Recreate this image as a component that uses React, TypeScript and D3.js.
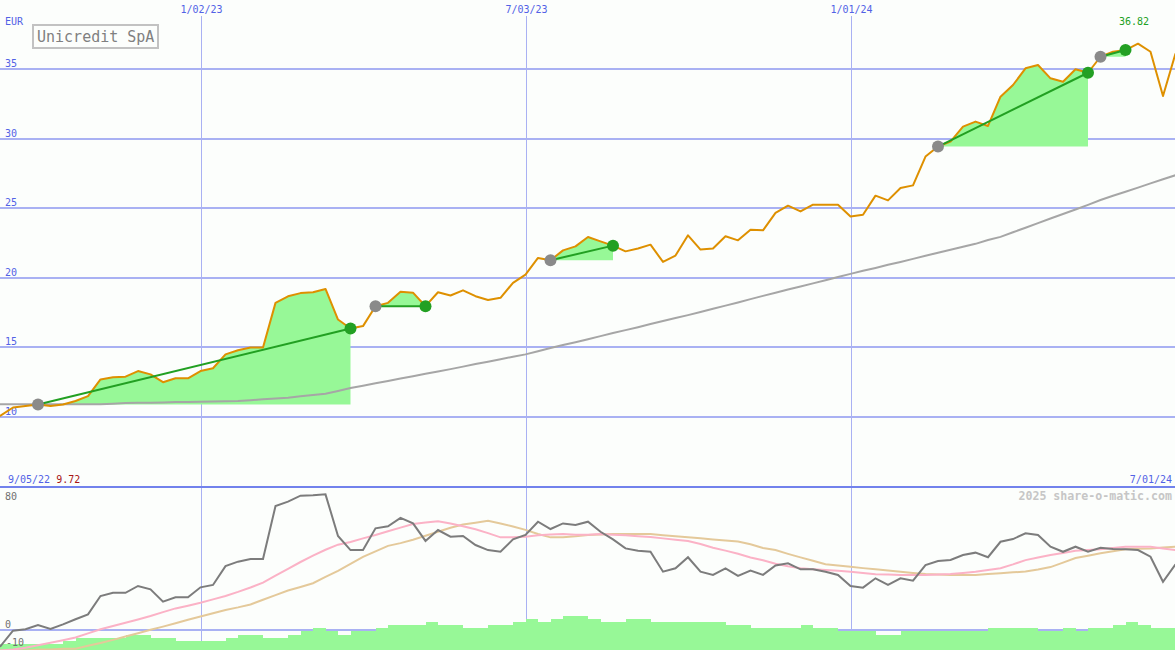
import React from 'react';
import * as d3 from 'd3';

const W = 1175;
const H = 650;

// weekly closes, starting 9/05/22
const startWeek = new Date(2022, 8, 5);
const weeks = d3.range(96).map((i) => d3.timeDay.offset(startWeek, i * 7));

const price = [
  9.72, 10.1, 10.68, 10.79, 10.9, 10.79, 10.9, 11.15, 11.5, 12.7,
  12.85, 12.9, 13.3, 13.06, 12.5, 12.78, 12.78, 13.3, 13.5, 14.5,
  14.8, 15.0, 15.0, 18.2, 18.67, 18.9, 18.96, 19.2, 17.0, 16.36,
  16.53, 17.96, 18.2, 19.0, 18.93, 17.96, 18.96, 18.73, 19.1, 18.68,
  18.4, 18.56, 19.64, 20.23, 21.43, 21.26, 21.97, 22.26, 22.93, 22.62,
  22.31, 21.9, 22.1, 22.38, 21.14, 21.6, 23.05, 22.03, 22.1, 22.98,
  22.69, 23.46, 23.41, 24.66, 25.18, 24.77, 25.25, 25.25, 25.25, 24.41,
  24.53, 25.9, 25.56, 26.45, 26.64, 28.71, 29.43, 29.79, 30.86, 31.22,
  30.91, 33.01, 33.85, 35.05, 35.29, 34.33, 34.09, 34.98, 34.73, 35.88,
  36.24, 36.36, 36.82, 36.24, 33.06, 36.12,
];

const longAvg = [
  10.91, 10.91, 10.91, 10.91, 10.91, 10.91, 10.91, 10.91, 10.91, 10.91,
  10.96, 11.0, 11.02, 11.03, 11.05, 11.07, 11.08, 11.1, 11.11, 11.13,
  11.15, 11.21, 11.27, 11.33, 11.39, 11.49, 11.58, 11.67, 11.87, 12.09,
  12.25, 12.42, 12.59, 12.76, 12.93, 13.1, 13.27, 13.44, 13.62, 13.8,
  13.97, 14.15, 14.33, 14.5, 14.73, 14.95, 15.17, 15.37, 15.59, 15.81,
  16.03, 16.24, 16.45, 16.68, 16.89, 17.11, 17.32, 17.54, 17.77, 18.0,
  18.23, 18.47, 18.7, 18.93, 19.16, 19.37, 19.6, 19.82, 20.06, 20.28,
  20.5, 20.71, 20.94, 21.14, 21.36, 21.58, 21.8, 22.01, 22.23, 22.44,
  22.71, 22.94, 23.27, 23.6, 23.93, 24.26, 24.58, 24.91, 25.24, 25.59,
  25.89, 26.18, 26.48, 26.78, 27.08, 27.37,
];

// bought / sold weeks (index into weeks)
const buyWeeks = [4, 31, 45, 76, 89];
const sellWeeks = [29, 35, 50, 88, 91];

const momentum = [
  -11, -9.5, -0.4, 0.4, 2.9, 0.6, 3.3, 6.3, 9.2, 20,
  21.9, 21.9, 25.9, 23.9, 16.7, 19.2, 19.2, 25.1, 26.5, 37.6,
  40.2, 41.8, 41.8, 72.9, 75.5, 79, 79.2, 79.8, 55.3, 47,
  47, 59.8, 61, 66, 62.7, 52.4, 58.8, 54.9, 55.3, 50,
  47, 46, 53.3, 55.9, 63.7, 59.4, 62.7, 61.8, 63.7, 57.8,
  53.3, 48, 46.6, 46, 34.3, 36.3, 42.8, 34.3, 32.4, 36.3,
  31.8, 34.9, 32.4, 38, 39.2, 35.7, 35.7, 34.3, 32.4, 25.9,
  24.9, 30.4, 26.5, 30.4, 29, 38.2, 40.6, 41.2, 44.1, 45.5,
  42.8, 51.9, 53.5, 56.9, 55.9, 49, 46, 49, 46, 48.4,
  47.6, 47.5, 47, 43.1, 28.4, 38.6,
];

const fastAvg = [
  -12, -12, -11.5, -10.5, -9, -7.5, -6, -4.4, -2, 0.4,
  2.3, 4.3, 6.2, 8.2, 10.5, 12.7, 14.3, 16, 18, 20,
  22.4, 25, 27.9, 32, 36, 40, 43.7, 47.2, 50.2, 51.8,
  53.9, 55.9, 58.1, 60.2, 62.3, 63.2, 64, 62.6, 61, 59.3,
  57, 54.5, 54.5, 54.8, 55.8, 56.2, 56.4, 56, 56.1, 56.5,
  56.1, 55.7, 55.2, 54.7, 53.9, 53.1, 52.3, 50.6, 48.4, 46.7,
  44.9, 42.7, 41, 39, 37.5, 36.3, 35.8, 35.3, 34.8, 34.3,
  33.5, 32.8, 32.6, 32.4, 32.4, 32.4, 32.6, 32.9, 33.6, 34.3,
  35.3, 36.3, 38.6, 41.1, 42.7, 44.1, 45.3, 46.6, 47, 47.5,
  48.2, 49, 49, 49, 48, 47,
];

const slowAvg = [
  -12, -12, -12, -12, -11.5, -11.5, -11, -11, -9.3, -7.7,
  -5.8, -3.8, -1.9, 0.1, 2, 4, 6, 7.9, 9.9, 11.8,
  13.3, 15, 17.8, 20.5, 23.2, 25.3, 27.5, 31.2, 34.8, 38.9,
  43, 46.3, 49.5, 51.1, 53.1, 55.4, 57.8, 60.1, 62.1, 63.1,
  64.2, 62.7, 60.9, 58.9, 56.5, 54.5, 54.5, 55.1, 55.9, 56.2,
  56.5, 56.5, 56.5, 56.4, 55.7, 55.1, 54.5, 53.9, 53.3, 52.7,
  52, 50.4, 48.2, 47, 44.8, 42.7, 40.7, 38.7, 38, 37.2,
  36.4, 35.7, 35, 34.3, 33.6, 32.9, 32.6, 32.4, 32.4, 32.4,
  32.9, 33.4, 33.9, 34.4, 35.6, 37, 39.6, 42.3, 43.7, 45.2,
  46.3, 47.5, 47.8, 48, 48.5, 49,
];

const volume = [
  20, 20, 20, 20, 20, 20, 30, 40, 40, 40,
  40, 50, 50, 40, 40, 30, 30, 30, 30, 40,
  50, 50, 40, 40, 50, 60, 70, 60, 50, 60,
  60, 70, 80, 80, 80, 90, 80, 80, 70, 70,
  80, 80, 90, 100, 90, 100, 110, 110, 100, 90,
  90, 100, 100, 90, 90, 90, 90, 90, 90, 80,
  80, 70, 70, 70, 70, 80, 70, 70, 60, 60,
  60, 50, 50, 60, 60, 60, 60, 60, 60, 60,
  70, 70, 70, 70, 60, 60, 70, 60, 70, 70,
  80, 90, 80, 70, 70, 70,
];

const dateTicks = ['1/02/23', '7/03/23', '1/01/24'];
const priceTicks = [10, 15, 20, 25, 30, 35];
const lowerTicks = [80, 0, -10];

const FONT = '"DejaVu Sans Mono", "Liberation Mono", monospace';
const BLUE_TEXT = '#5262e6';
const GRID = '#a9b1f3';

const App: React.FC = () => {
  const parse = d3.timeParse('%m/%d/%y');
  const fmt = d3.timeFormat('%-m/%d/%y');

  const x = d3.scaleTime().domain([weeks[0], weeks[95]]).range([-12, 1175.5]);
  const y = d3.scaleLinear().domain([10, 35]).range([417, 69]);
  const yLow = d3.scaleLinear().domain([-10, 80]).range([647, 494]);
  const yVol = d3.scaleLinear().domain([0, 100]).range([650, 619]);

  const priceLine = d3.line<number>().x((_, i) => x(weeks[i])).y((d) => y(d));
  const lowLine = d3.line<number>().x((_, i) => x(weeks[i])).y((d) => yLow(d));

  const maxIdx = d3.maxIndex(price);

  return (
    <svg
      width={W}
      height={H}
      style={{ position: 'absolute', left: 0, top: 0, display: 'block' }}
      fontFamily={FONT}
    >
      <defs>
        <clipPath id="lowClip">
          <rect x={0} y={489} width={W} height={H - 489} />
        </clipPath>
      </defs>
      <rect width={W} height={H} fill="#fcfefc" />

      {/* vertical date grid */}
      {dateTicks.map((t) => {
        const px = Math.round(x(parse(t) as Date)) + 0.5;
        return (
          <g key={t}>
            <line x1={px} x2={px} y1={16} y2={H} stroke={GRID} strokeWidth={1} />
            <text x={px} y={13} fontSize={10} fill={BLUE_TEXT} textAnchor="middle">
              {t}
            </text>
          </g>
        );
      })}

      {/* horizontal price grid */}
      {priceTicks.map((p) => (
        <g key={p}>
          <line x1={0} x2={W} y1={Math.round(y(p))} y2={Math.round(y(p))} stroke={GRID} strokeWidth={2} />
          <text x={5} y={y(p) - 2} fontSize={10} fill={BLUE_TEXT}>
            {p}
          </text>
        </g>
      ))}

      <text x={5} y={25} fontSize={10} fill={BLUE_TEXT}>EUR</text>

      {/* panel separator */}
      <line x1={0} x2={W} y1={487} y2={487} stroke="#7282ec" strokeWidth={2} />
      <line x1={0} x2={W} y1={yLow(0)} y2={yLow(0)} stroke={GRID} strokeWidth={2} />

      {/* volume bars */}
      <g shapeRendering="crispEdges">
        {volume.map((v, i) => {
          const x0 = x(weeks[i]);
          const x1 = x(d3.timeDay.offset(weeks[i], 7));
          return (
            <rect key={i} x={x0} y={yVol(v)} width={x1 - x0} height={yVol(0) - yVol(v)} fill="#97f897" />
          );
        })}
      </g>

      {/* trade fills */}
      {buyWeeks.map((b, k) => {
        const s = sellWeeks[k];
        const idx = d3.range(b, s + 1);
        const area = d3
          .area<number>()
          .x((i) => x(weeks[i]))
          .y0(y(price[b]))
          .y1((i) => y(price[i]));
        return <path key={k} d={area(idx) ?? ''} fill="#97f897" />;
      })}

      {/* long moving average */}
      <path d={priceLine(longAvg) ?? ''} fill="none" stroke="#a6a6a6" strokeWidth={2} />

      {/* price */}
      <path d={priceLine(price) ?? ''} fill="none" stroke="#de9000" strokeWidth={2} strokeLinejoin="round" />

      {/* trade lines and markers */}
      {buyWeeks.map((b, k) => {
        const s = sellWeeks[k];
        return (
          <g key={k}>
            <line
              x1={x(weeks[b])}
              y1={y(price[b])}
              x2={x(weeks[s])}
              y2={y(price[s])}
              stroke="#22a022"
              strokeWidth={2}
            />
            <circle cx={x(weeks[b])} cy={y(price[b])} r={6} fill="#8a8a8a" />
            <circle cx={x(weeks[s])} cy={y(price[s])} r={6} fill="#23a023" />
          </g>
        );
      })}

      <text x={x(weeks[maxIdx]) - 19} y={25} fontSize={10} fill="#22a022">
        {price[maxIdx].toFixed(2)}
      </text>

      {/* title box */}
      <rect x={33} y={25} width={125} height={23} fill="#fcfefc" stroke="#c2c2c2" strokeWidth={2} />
      <text x={37} y={41.5} fontSize={15} fill="#808080">Unicredit SpA</text>

      {/* range labels */}
      <text x={8} y={483} fontSize={10} fill={BLUE_TEXT}>
        {fmt(weeks[0])}
        <tspan dx={6} fill="#a81414">{price[0].toFixed(2)}</tspan>
      </text>
      <text x={1172} y={483} fontSize={10} fill={BLUE_TEXT} textAnchor="end">
        {fmt(weeks[95])}
      </text>
      <text x={1172} y={500} fontSize={11.6} fontWeight="bold" fill="#c6c6c6" textAnchor="end">
        2025 share-o-matic.com
      </text>

      {/* lower panel */}
      <g clipPath="url(#lowClip)">
        <path d={lowLine(slowAvg) ?? ''} fill="none" stroke="#e4c99a" strokeWidth={2} />
        <path d={lowLine(fastAvg) ?? ''} fill="none" stroke="#fbb2c6" strokeWidth={2} />
        <path d={lowLine(momentum) ?? ''} fill="none" stroke="#7c7c7c" strokeWidth={2} />
      </g>

      {lowerTicks.map((v) => (
        <text
          key={v}
          x={v < 0 ? 6 : 5}
          y={v === 80 ? yLow(v) + 6 : v === 0 ? yLow(v) - 2 : yLow(v) - 1}
          fontSize={10}
          fill="#707070"
        >
          {v}
        </text>
      ))}
    </svg>
  );
};

export default App;
